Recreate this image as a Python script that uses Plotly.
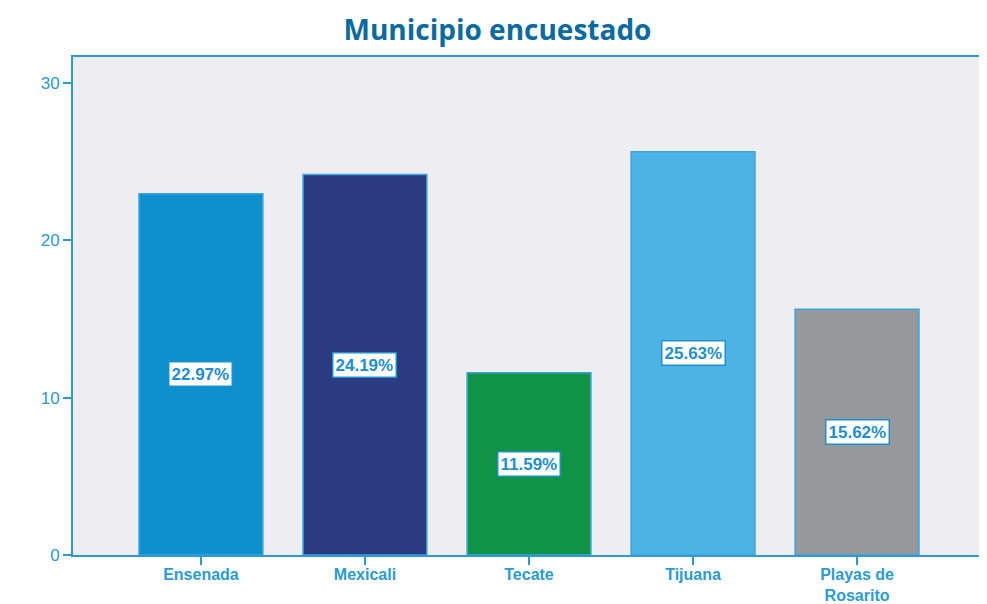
import plotly.graph_objects as go

categories = ["Ensenada", "Mexicali", "Tecate", "Tijuana", "Playas de<br>Rosarito"]
values = [22.97, 24.19, 11.59, 25.63, 15.62]
labels = ["22.97%", "24.19%", "11.59%", "25.63%", "15.62%"]
colors = ["#0e90cd", "#2a3b80", "#0f9446", "#4bb4e4", "#96999c"]
y_ticks = [0, 10, 20, 30]

axis_color = "#2a9bd6"

fig = go.Figure()
fig.add_trace(go.Bar(
    x=list(range(len(categories))),
    y=values,
    marker=dict(color=colors, line=dict(color="#3aa5dc", width=1.5)),
    width=0.755,
    hoverinfo="skip",
))

for i, (v, t) in enumerate(zip(values, labels)):
    fig.add_annotation(
        x=i, y=v / 2, text="<b>" + t + "</b>", showarrow=False,
        font=dict(family="Liberation Sans, Arial", size=17, color="#1e8fd1"),
        bgcolor="white", bordercolor="#1e8fd1", borderwidth=1.5, borderpad=2,
    )

fig.update_layout(
    width=979, height=596,
    margin=dict(l=65, r=2, t=49, b=49),
    paper_bgcolor="white",
    plot_bgcolor="#eeeef2",
    showlegend=False,
    title=dict(
        text="<b>Municipio encuestado</b>",
        x=0.5, xanchor="center", y=0.963, yanchor="middle",
        font=dict(family="Open Sans, Noto Sans", size=28, color="#0b6ba1"),
    ),
    xaxis=dict(
        range=[-0.78, 4.78],
        tickmode="array",
        tickvals=list(range(len(categories))),
        ticktext=["<b>" + c + "</b>" for c in categories],
        tickfont=dict(family="Liberation Sans, Arial", size=16, color=axis_color),
        ticks="outside", ticklen=8, tickwidth=2, tickcolor=axis_color,
        ticklabelstandoff=-4,
        showline=True, linecolor=axis_color, linewidth=2, mirror=True,
        showgrid=False, zeroline=False, automargin=False,
    ),
    yaxis=dict(
        range=[0, 31.66],
        tickmode="array",
        tickvals=y_ticks,
        tickfont=dict(family="Liberation Sans, Arial", size=17, color=axis_color),
        ticks="outside", ticklen=8, tickwidth=2, tickcolor=axis_color,
        showline=True, linecolor=axis_color, linewidth=2, mirror=True,
        showgrid=False, zeroline=False, automargin=False,
    ),
)

fig.write_html("out.html")
